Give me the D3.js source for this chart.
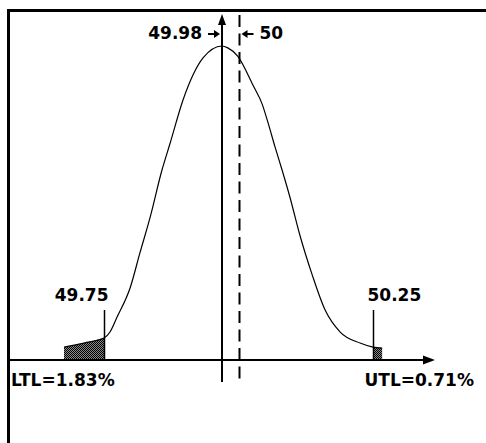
<!DOCTYPE html>
<html>
<head>
<meta charset="utf-8">
<script src="https://cdn.jsdelivr.net/npm/d3@7"></script>
<style>
    html, body { margin: 0; padding: 0; background: #fff; }
    svg { display: block; }
    text { font-family: "DejaVu Sans", sans-serif; font-weight: bold; font-size: 17px; fill: #000; }
</style>
</head>
<body>
<svg id="vis-svg"></svg>
<script>
/* data */
// process curve: measured value and relative height (% of peak)
const curveValues = [49.672, 49.711, 49.75, 49.762, 49.775, 49.801, 49.820, 49.840, 49.863, 49.879,
                     49.904, 49.943, 49.98, 49.987, 49.999, 50.027, 50.044, 50.055, 50.068, 50.081,
                     50.096, 50.114, 50.137, 50.161, 50.189, 50.226, 50.25, 50.267];
const curveHeights = [4.1, 5.4, 7.0, 9.0, 13.5, 23.0, 34.1, 45.5, 60.5, 69.1,
                      82.8, 96.2, 100, 99.4, 96.8, 87.5, 81.5, 75.5, 67.8, 60.5,
                      51.6, 39.8, 27.1, 15.9, 8.9, 5.4, 4.1, 3.8];

const specLimits = [49.75, 50.25];
const specLabels = ["49.75", "50.25"];
const tailLabels = ["LTL=1.83%", "UTL=0.71%"];
const meanValue = 49.98;
const nominalValue = 50;
const meanLabel = "49.98";
const nominalLabel = "50";

/* document loaded */
document.addEventListener("DOMContentLoaded", function() {
    let svg = d3.select("#vis-svg")
        .attr("width", 486)
        .attr("height", 443);

    // piecewise scale: the drawing is schematic, not to scale everywhere
    let xScale = d3.scaleLinear()
        .domain([specLimits[0], meanValue, nominalValue, specLimits[1]])
        .range([104, 222, 238.5, 373]);

    let yScale = d3.scaleLinear()
        .domain([0, 100])
        .range([360, 46]);

    let points = curveValues.map((v, i) => [v, curveHeights[i]]);

    // checkered fill for the tails
    let defs = svg.append("defs");
    let pat = defs.append("pattern")
        .attr("id", "dots")
        .attr("width", 2)
        .attr("height", 2)
        .attr("patternUnits", "userSpaceOnUse");
    pat.append("rect").attr("width", 2).attr("height", 2).attr("fill", "#8a8a8a");
    pat.append("rect").attr("width", 1).attr("height", 1).attr("fill", "#000");
    pat.append("rect").attr("x", 1).attr("y", 1).attr("width", 1).attr("height", 1).attr("fill", "#000");

    // frame (left and top)
    svg.append("line")
        .attr("x1", 8.5).attr("x2", 8.5).attr("y1", 9).attr("y2", 443)
        .attr("stroke", "#000").attr("stroke-width", 3);
    svg.append("line")
        .attr("x1", 7).attr("x2", 486).attr("y1", 10.5).attr("y2", 10.5)
        .attr("stroke", "#000").attr("stroke-width", 3);

    // shaded tails
    let area = d3.area()
        .x(d => xScale(d[0]))
        .y0(yScale(0))
        .y1(d => yScale(d[1]))
        .curve(d3.curveMonotoneX);

    svg.append("path")
        .datum(points.filter(d => d[0] <= specLimits[0]))
        .attr("d", area)
        .attr("fill", "url(#dots)");

    svg.append("path")
        .datum(points.filter(d => d[0] >= specLimits[1]))
        .attr("d", area)
        .attr("fill", "url(#dots)");

    // curve
    let line = d3.line()
        .x(d => xScale(d[0]))
        .y(d => yScale(d[1]))
        .curve(d3.curveMonotoneX);

    svg.append("path")
        .datum(points)
        .attr("d", line)
        .attr("fill", "none")
        .attr("stroke", "#000")
        .attr("stroke-width", 1.2);

    // x axis with arrow
    let axisY = yScale(0);
    svg.append("line")
        .attr("x1", 8).attr("x2", 428).attr("y1", axisY).attr("y2", axisY)
        .attr("stroke", "#000").attr("stroke-width", 2);
    svg.append("path")
        .attr("d", `M435,${axisY} L423,${axisY - 4.5} L423,${axisY + 4.5} Z`)
        .attr("fill", "#000");

    // mean line with arrow on top
    let mx = Math.round(xScale(meanValue));
    svg.append("line")
        .attr("x1", mx).attr("x2", mx).attr("y1", 22).attr("y2", 382)
        .attr("stroke", "#000").attr("stroke-width", 2);
    svg.append("path")
        .attr("d", `M${mx},14 L${mx - 4},25 L${mx + 4},25 Z`)
        .attr("fill", "#000");

    // nominal dashed line
    let nx = Math.round(xScale(nominalValue)) + 0.5;
    svg.append("line")
        .attr("x1", nx).attr("x2", nx).attr("y1", 15).attr("y2", 382)
        .attr("stroke", "#000").attr("stroke-width", 2)
        .attr("stroke-dasharray", "12,6.5");

    // pointer arrows at the top
    let ay = 34;
    svg.append("line")
        .attr("x1", mx - 14).attr("x2", mx - 6).attr("y1", ay).attr("y2", ay)
        .attr("stroke", "#000").attr("stroke-width", 2);
    svg.append("path")
        .attr("d", `M${mx - 2},${ay} L${mx - 8},${ay - 4} L${mx - 8},${ay + 4} Z`)
        .attr("fill", "#000");
    svg.append("line")
        .attr("x1", nx + 6).attr("x2", nx + 14).attr("y1", ay).attr("y2", ay)
        .attr("stroke", "#000").attr("stroke-width", 2);
    svg.append("path")
        .attr("d", `M${nx + 2},${ay} L${nx + 8},${ay - 4} L${nx + 8},${ay + 4} Z`)
        .attr("fill", "#000");

    svg.append("text")
        .attr("x", mx - 20).attr("y", 39)
        .attr("text-anchor", "end")
        .text(meanLabel);
    svg.append("text")
        .attr("x", nx + 20).attr("y", 39)
        .text(nominalLabel);

    // spec limit lines and labels
    specLimits.forEach((s, i) => {
        let sx = Math.round(xScale(s)) + 0.5;
        svg.append("line")
            .attr("x1", sx).attr("x2", sx).attr("y1", 310).attr("y2", axisY)
            .attr("stroke", "#000").attr("stroke-width", 1.5);
        svg.append("text")
            .attr("x", i == 0 ? sx + 4 : sx - 6)
            .attr("y", 301)
            .attr("text-anchor", i == 0 ? "end" : "start")
            .text(specLabels[i]);
    });

    svg.append("text")
        .attr("x", 11).attr("y", 386)
        .text(tailLabels[0]);
    svg.append("text")
        .attr("x", 474).attr("y", 386)
        .attr("text-anchor", "end")
        .text(tailLabels[1]);
});
</script>
</body>
</html>
